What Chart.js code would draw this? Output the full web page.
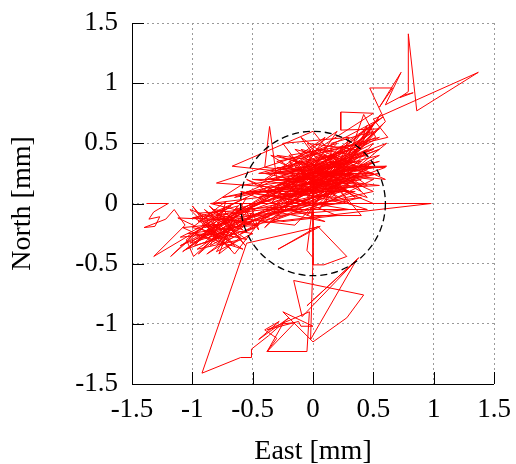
<!DOCTYPE html>
<html><head><meta charset="utf-8">
<script src="https://cdn.jsdelivr.net/npm/chart.js@4.4.1/dist/chart.umd.min.js"></script>
<style>html,body{margin:0;padding:0;background:#fff}#wrap{width:516px;height:464px}</style>
</head><body><div id="wrap"><canvas id="c" width="516" height="464"></canvas></div>
<script>
const eastValues = [
-1.38,-1.20,-1.32,-1.36,-1.27,-1.31,-1.40,-1.22,-1.15,-1.06,
-1.32,-0.95,-1.18,-0.85,-1.05,-0.99,-0.78,-1.10,-0.70,-1.00,
-0.62,-0.90,-0.55,-1.08,-0.75,-0.48,-0.95,-0.66,-0.88,-0.60,
-1.02,-0.72,-0.42,-0.85,-0.58,-0.98,-0.68,-0.92,-0.50,-0.80,
-0.64,-1.12,-0.74,-0.52,-0.82,-0.60,-0.96,-0.70,-0.45,-0.88,
-0.55,-0.78,-1.00,-0.65,-0.40,-0.86,-0.60,-0.45,-0.52,0.50,
-0.10,0.30,-0.30,0.20,-0.15,0.40,-0.40,0.10,-0.20,0.45,
0.00,-0.35,0.25,-0.05,0.35,-0.25,0.15,0.50,-0.10,0.20,
-0.45,0.30,0.05,0.40,-0.20,0.10,0.55,-0.30,0.00,0.35,
-0.15,0.25,-0.05,0.45,-0.35,0.15,0.60,0.05,-0.25,0.30,
0.10,0.50,-0.40,-0.36,-0.30,0.20,-0.10,0.40,0.00,-0.67,
0.35,-0.05,0.25,-0.20,0.45,0.10,-0.45,0.05,0.55,-0.15,
0.30,0.00,0.40,-0.25,0.20,-0.80,0.15,0.50,0.10,-0.35,
0.30,-0.10,0.45,0.00,-0.50,0.25,-0.20,0.35,0.05,0.60,
-0.30,0.20,0.00,0.00,0.40,0.15,0.15,0.50,0.10,0.55,
-0.20,0.50,0.23,0.23,0.55,0.00,0.52,0.42,0.30,0.60,
0.47,0.66,0.55,0.73,0.60,0.75,0.83,0.72,0.79,0.79,
0.86,1.37,0.50,0.62,0.20,0.58,0.05,-0.30,0.30,-0.60,
0.10,-0.40,0.45,-0.20,-0.70,0.00,-0.50,0.35,-0.85,-0.25,
0.20,-0.55,-0.10,-0.95,-0.35,0.25,-0.65,0.05,-0.45,0.40,
-0.80,-0.15,0.30,-0.60,0.10,-0.30,0.55,-0.75,-0.05,-0.40,
0.20,-0.90,-0.20,0.48,-0.60,-0.83,0.98,-0.58,-0.30,0.00,
0.00,0.09,0.28,0.04,-0.29,0.06,-0.55,-0.92,-0.60,-0.51,
-0.51,-0.37,-0.20,-0.45,-0.28,-0.40,-0.30,-0.38,-0.25,-0.15,
-0.38,-0.05,-0.03,-0.38,-0.12,-0.10,0.00,-0.25,0.00,0.28,
0.42,-0.16,-0.09,0.38,-0.05,0.36,-0.02,0.00,-0.05,0.00,
0.61,-0.30,0.55,-0.45,0.50,-0.25,0.61,-0.15,0.40,-0.55,
0.25,-0.35,0.45,-0.10,0.35,-0.65,0.15,-0.40,0.50,-0.05,
0.30,-0.50,0.20,-0.20,0.55,-0.75,0.05,-0.35,0.40,0.00,
-0.95,-0.60,-1.05,-0.70,-0.90,-0.55,-1.00,-0.72,-0.85,-0.50,
-0.98,-0.65,-0.80,-1.08,-0.62,-0.92,-0.75,-0.58,-1.02,-0.68,
-0.88,-0.52,-0.95,-0.72,-0.82,-0.45,-1.10,-0.66,-0.78,-0.60,
-0.90,-0.70,-0.48,-0.98,-0.76,-0.56,-0.86,-0.64,-1.04,-0.80,
-0.30,0.25,-0.20,0.40,-0.05,0.30,-0.40,0.20,-0.10,0.50,
0.05,-0.30,0.35,-0.15,0.45,0.00,-0.25,0.30,-0.45,0.15,
-0.05,0.55,0.10,-0.35,0.25,-0.20,0.40,0.00,-0.10,0.35,
0.15,-0.30,0.45,0.05,-0.15,0.30,-0.40,0.20,0.10,0.50,
0.20,0.52,0.10,0.48,0.30,0.56,0.25,0.50,0.15,0.45,
0.35,0.58,0.05,-0.50,0.20,-0.65,0.10,-0.35,0.35,-0.55,
0.00
];
const northValues = [
0.00,0.00,-0.07,-0.13,-0.11,-0.19,-0.20,-0.13,-0.05,-0.18,
-0.44,-0.22,-0.44,-0.15,-0.30,-0.44,-0.25,-0.28,-0.08,-0.12,
-0.02,-0.33,-0.15,-0.20,-0.35,-0.05,-0.08,-0.28,-0.42,-0.20,
-0.33,-0.12,0.02,-0.22,-0.38,-0.25,-0.02,-0.18,-0.25,-0.40,
-0.14,-0.12,-0.30,-0.10,-0.05,-0.30,-0.38,-0.20,-0.18,-0.10,
0.05,-0.33,-0.02,-0.42,-0.10,-0.28,0.00,-0.22,0.00,0.00,
0.25,0.10,0.35,0.45,0.05,0.30,0.20,0.55,0.10,0.25,
0.40,0.00,0.20,0.50,0.45,0.30,0.05,0.35,0.15,0.60,
0.15,0.25,-0.05,0.50,0.40,0.20,0.15,0.10,0.30,0.05,
0.45,0.35,-0.10,0.40,0.25,0.30,0.30,0.10,0.50,0.55,
0.00,0.20,0.30,0.64,0.20,0.15,0.35,0.10,0.60,0.31,
0.20,0.00,0.45,0.25,0.05,0.40,0.25,0.25,0.45,0.20,
0.35,0.15,0.20,0.05,0.50,0.17,0.10,0.50,0.30,0.40,
0.00,0.55,0.15,0.20,0.20,0.10,0.00,0.40,0.45,0.20,
0.30,0.25,0.25,-0.10,-0.10,0.20,0.50,0.60,0.35,0.70,
0.30,0.75,0.76,0.61,0.62,0.30,0.55,0.74,0.40,0.68,
0.96,0.96,0.80,1.09,0.82,0.90,0.92,0.88,0.93,1.41,
0.77,1.09,0.70,0.55,0.45,0.72,0.30,-0.10,-0.05,0.10,
-0.15,-0.05,-0.05,0.15,-0.15,0.05,-0.10,0.15,0.00,-0.15,
-0.10,0.20,-0.05,-0.15,0.15,0.00,-0.05,0.15,-0.15,0.05,
-0.10,-0.18,0.30,-0.25,0.10,0.05,0.25,0.05,0.20,-0.20,
0.35,-0.20,-0.05,0.30,0.15,0.00,0.00,-0.18,-0.05,-0.08,
-0.51,-0.51,-0.44,-0.19,-0.38,-0.19,-0.33,-1.41,-1.28,-1.28,
-1.21,-1.10,-0.95,-1.13,-0.98,-1.05,-1.12,-1.23,-1.00,-0.99,
-1.23,-1.23,-0.90,-1.05,-0.98,-1.02,-1.02,-0.90,-1.15,-0.95,
-0.76,-0.64,-0.94,-0.45,-0.85,-0.47,-1.13,-0.45,-0.39,0.00,
0.50,0.15,0.35,0.05,0.45,0.20,0.31,0.30,0.35,-0.05,
0.30,0.10,0.45,0.10,0.25,0.05,0.40,-0.10,0.10,0.35,
0.15,0.10,0.05,0.35,0.55,-0.15,0.35,-0.05,0.40,0.10,
-0.30,-0.05,-0.38,-0.25,-0.05,-0.30,-0.20,0.02,-0.35,-0.15,
-0.12,-0.35,-0.18,-0.40,-0.10,-0.28,-0.05,-0.22,-0.05,-0.38,
-0.22,-0.05,-0.42,-0.18,-0.30,-0.08,-0.35,-0.12,-0.42,-0.28,
-0.15,-0.30,-0.20,-0.35,-0.10,-0.35,-0.02,-0.20,-0.25,-0.26,
0.00,0.25,0.20,0.25,0.05,0.45,0.10,0.20,0.45,0.30,
0.20,0.25,0.35,0.10,0.50,0.35,0.15,0.20,0.00,0.35,
0.25,0.40,0.15,0.20,0.40,0.05,0.15,0.45,0.20,0.30,
0.25,0.40,0.30,0.05,0.35,0.10,0.25,0.40,0.25,0.25,
0.30,0.68,0.20,0.62,0.35,0.74,0.30,0.58,0.25,0.65,
0.40,0.66,0.15,-0.05,0.10,-0.20,0.05,-0.15,0.10,0.10,
0.00
];
const tickValues = [-1.5, -1, -0.5, 0, 0.5, 1, 1.5];
const axisMin = -1.5, axisMax = 1.5;
const circleRadius = 0.6;
const xTitle = 'East [mm]';
const yTitle = 'North [mm]';

const FONT = "'Liberation Serif', 'Times New Roman', serif";
const points = eastValues.map((e, i) => ({x: e, y: northValues[i]}));

const circlePlugin = {
  id: 'circleAndTicks',
  beforeDatasetsDraw(chart) {
    const {ctx, scales: {x, y}, chartArea} = chart;
    ctx.save();
    ctx.strokeStyle = '#000';
    ctx.lineWidth = 1;
    ctx.setLineDash([]);
    ctx.beginPath();
    tickValues.forEach(v => {
      const px = Math.round(x.getPixelForValue(v)) + 0.5;
      ctx.moveTo(px, chartArea.bottom);
      ctx.lineTo(px, chartArea.bottom - 12);
      const py = Math.round(y.getPixelForValue(v)) + 0.5;
      ctx.moveTo(chartArea.left, py);
      ctx.lineTo(chartArea.left + 12, py);
    });
    // solid left and bottom axis lines
    ctx.moveTo(chartArea.left + 0.5, chartArea.top);
    ctx.lineTo(chartArea.left + 0.5, chartArea.bottom + 0.5);
    ctx.lineTo(chartArea.right, chartArea.bottom + 0.5);
    ctx.stroke();
    ctx.restore();
  },
  afterDatasetsDraw(chart) {
    const {ctx, scales: {x, y}} = chart;
    const cx = x.getPixelForValue(0), cy = y.getPixelForValue(0);
    const rx = Math.abs(x.getPixelForValue(circleRadius) - cx);
    const ry = Math.abs(y.getPixelForValue(circleRadius) - cy);
    ctx.save();
    ctx.strokeStyle = '#000';
    ctx.lineWidth = 1.3;
    ctx.setLineDash([7, 4]);
    ctx.beginPath();
    ctx.ellipse(cx, cy, rx, ry, 0, 0, Math.PI * 2);
    ctx.stroke();
    ctx.restore();
  }
};

const gridOpts = {color: '#9a9a9a', lineWidth: 1, drawTicks: false};

new Chart(document.getElementById('c'), {
  type: 'scatter',
  data: {datasets: [{
    data: points,
    showLine: true,
    borderColor: '#ff0000',
    borderWidth: 1,
    pointRadius: 0,
    tension: 0,
    fill: false
  }]},
  options: {
    responsive: false,
    animation: false,
    devicePixelRatio: 1,
    layout: {padding: {left: 0, right: 22, top: 23, bottom: 0}},
    plugins: {legend: {display: false}, tooltip: {enabled: false}},
    scales: {
      x: {
        type: 'linear', min: axisMin, max: axisMax,
        afterBuildTicks: s => { s.ticks = tickValues.map(v => ({value: v})); },
        afterFit: s => { s.height = 80; s.paddingLeft = 0; s.paddingRight = 0; },
        grid: {...gridOpts},
        border: {display: false, dash: [2, 3]},
        ticks: {color: '#000', padding: 10, font: {family: FONT, size: 27}, maxRotation: 0,
          callback: v => String(v)},
        title: {display: true, text: xTitle, color: '#000', font: {family: FONT, size: 28, lineHeight: 0.9}, padding: 0}
      },
      y: {
        type: 'linear', min: axisMin, max: axisMax,
        afterBuildTicks: s => { s.ticks = tickValues.map(v => ({value: v})); },
        afterFit: s => { s.width = 132; s.paddingTop = 0; s.paddingBottom = 0; },
        grid: {...gridOpts},
        border: {display: false, dash: [2, 3]},
        ticks: {color: '#000', padding: 14, font: {family: FONT, size: 27},
          callback: v => String(v)},
        title: {display: true, text: yTitle, color: '#000', font: {family: FONT, size: 28, lineHeight: 1.2}, padding: {top: 6, bottom: 0}}
      }
    }
  },
  plugins: [circlePlugin]
});
</script>
</body></html>
